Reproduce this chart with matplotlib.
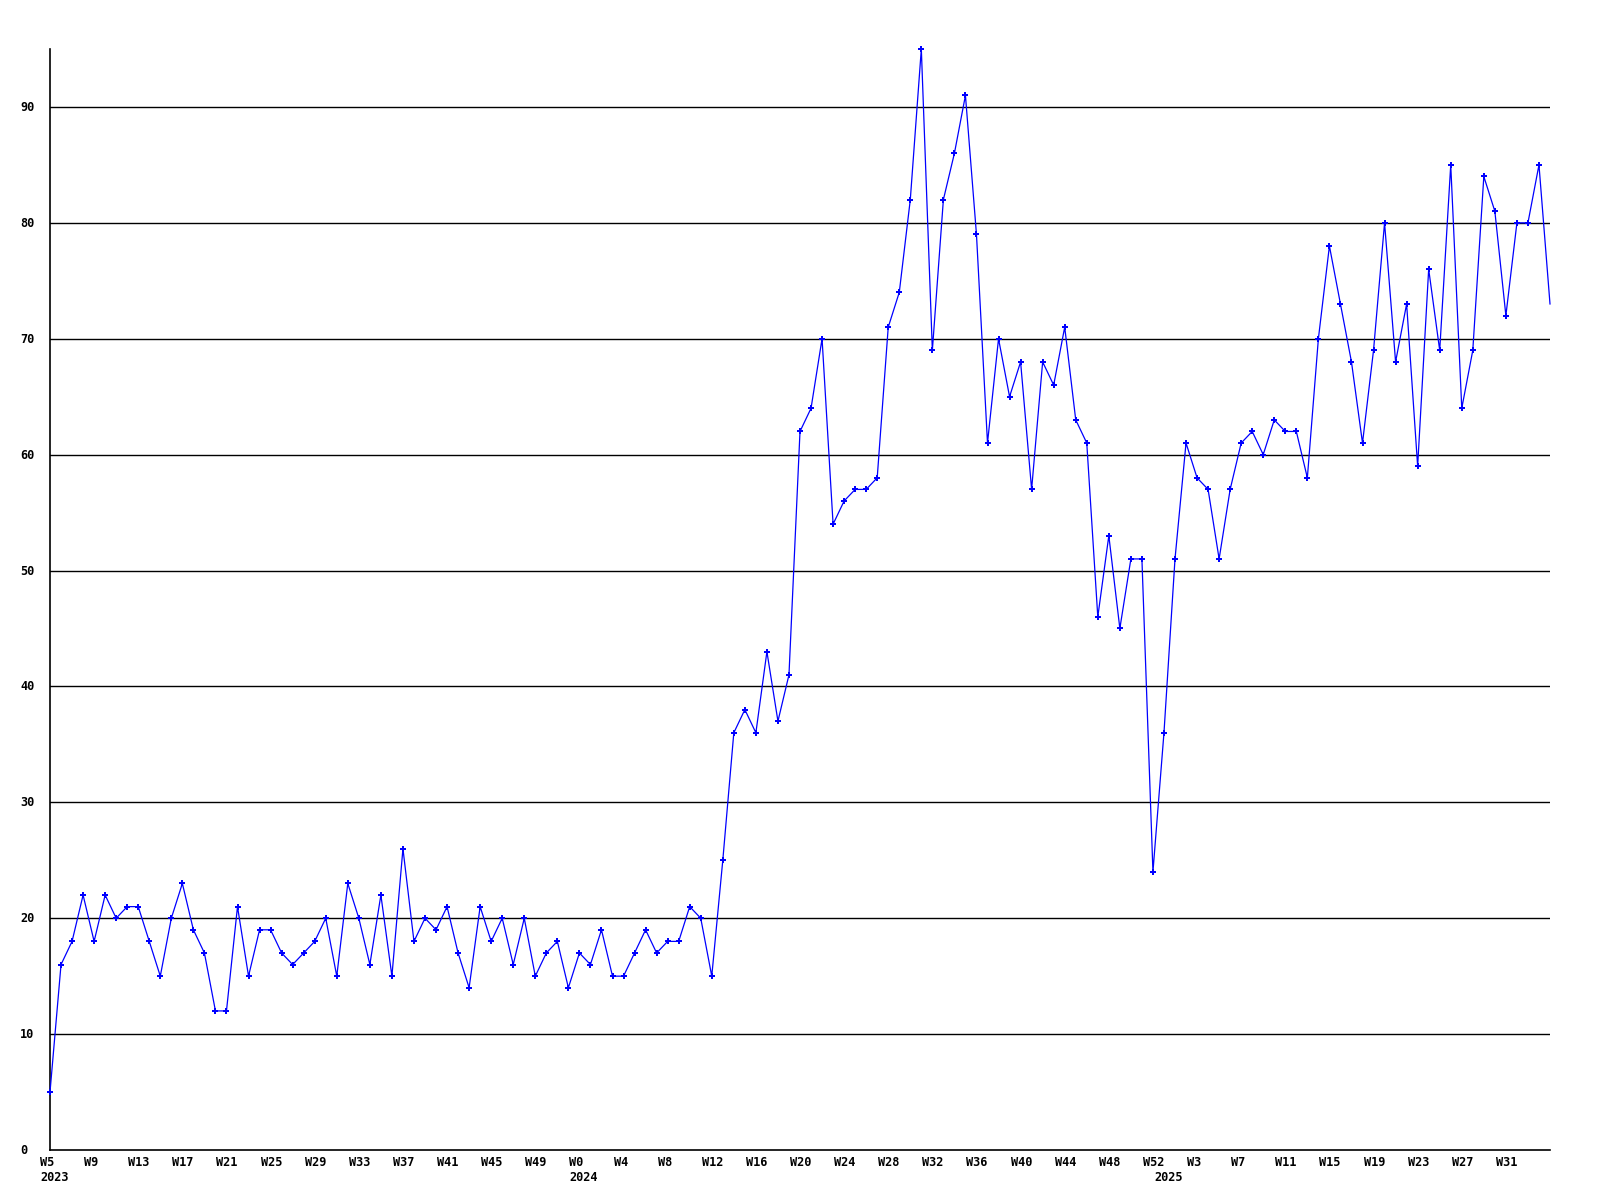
import matplotlib
matplotlib.use("Agg")
import matplotlib.pyplot as plt
from matplotlib.transforms import offset_copy

values = [5, 16, 18, 22, 18, 22, 20, 21, 21, 18,
          15, 20, 23, 19, 17, 12, 12, 21, 15, 19,
          19, 17, 16, 17, 18, 20, 15, 23, 20, 16,
          22, 15, 26, 18, 20, 19, 21, 17, 14, 21,
          18, 20, 16, 20, 15, 17, 18, 14, 17, 16,
          19, 15, 15, 17, 19, 17, 18, 18, 21, 20,
          15, 25, 36, 38, 36, 43, 37, 41, 62, 64,
          70, 54, 56, 57, 57, 58, 71, 74, 82, 95,
          69, 82, 86, 91, 79, 61, 70, 65, 68, 57,
          68, 66, 71, 63, 61, 46, 53, 45, 51, 51,
          24, 36, 51, 61, 58, 57, 51, 57, 61, 62,
          60, 63, 62, 62, 58, 70, 78, 73, 68, 61,
          69, 80, 68, 73, 59, 76, 69, 85, 64, 69,
          84, 81, 72, 80, 80, 85, 73]

week_labels = ["W5", "W9", "W13", "W17", "W21", "W25", "W29", "W33", "W37", "W41", "W45", "W49",
               "W0", "W4", "W8", "W12", "W16", "W20", "W24", "W28", "W32", "W36", "W40", "W44", "W48", "W52",
               "W3", "W7", "W11", "W15", "W19", "W23", "W27", "W31"]
week_label_step = 4
year_labels = ["2023", "2024", "2025"]
year_start_index = [0, 48, 101]
y_ticks = [0, 10, 20, 30, 40, 50, 60, 70, 80, 90]

W, H = 1600, 1200
fig = plt.figure(figsize=(16, 12), dpi=100)
fig.patch.set_facecolor("white")
ax = fig.add_axes([50 / W, 50 / H, 1500 / W, 1101 / H])
ax.set_facecolor("white")

x = list(range(len(values)))
ax.set_xlim(0, len(values) - 1)
ax.set_ylim(0, 95)

for yt in y_ticks[1:]:
    ax.axhline(yt, color="black", lw=1.0, zorder=1)

ax.plot(x, values, color="#0000ff", lw=0.9, zorder=3, clip_on=False,
        marker="P", markersize=5.0, markeredgewidth=0,
        markevery=slice(0, len(values) - 1))

for s in ["top", "right"]:
    ax.spines[s].set_visible(False)
for s in ["left", "bottom"]:
    ax.spines[s].set_color("black")
    ax.spines[s].set_linewidth(1.2)
ax.set_xticks([])
ax.set_yticks([])

font = dict(family="DejaVu Sans Mono", weight="bold", fontsize=8.6, color="black")

# x week labels
tr_w = offset_copy(ax.get_xaxis_transform(), fig=fig, x=-10, y=-16, units="dots")
for i, lab in enumerate(week_labels):
    ax.text(i * week_label_step, 0, lab, transform=tr_w, ha="left", va="baseline",
            clip_on=False, **font)

tr_y = offset_copy(ax.get_xaxis_transform(), fig=fig, x=-10, y=-31, units="dots")
for idx, lab in zip(year_start_index, year_labels):
    ax.text(idx, 0, lab, transform=tr_y, ha="left", va="baseline", clip_on=False, **font)

# y labels
tr_l = offset_copy(ax.get_yaxis_transform(), fig=fig, x=-30, y=-4, units="dots")
for yt in y_ticks:
    ax.text(0, yt, str(yt), transform=tr_l, ha="left", va="baseline", clip_on=False, **font)

fig.savefig("out.png", dpi=100, facecolor="white")
